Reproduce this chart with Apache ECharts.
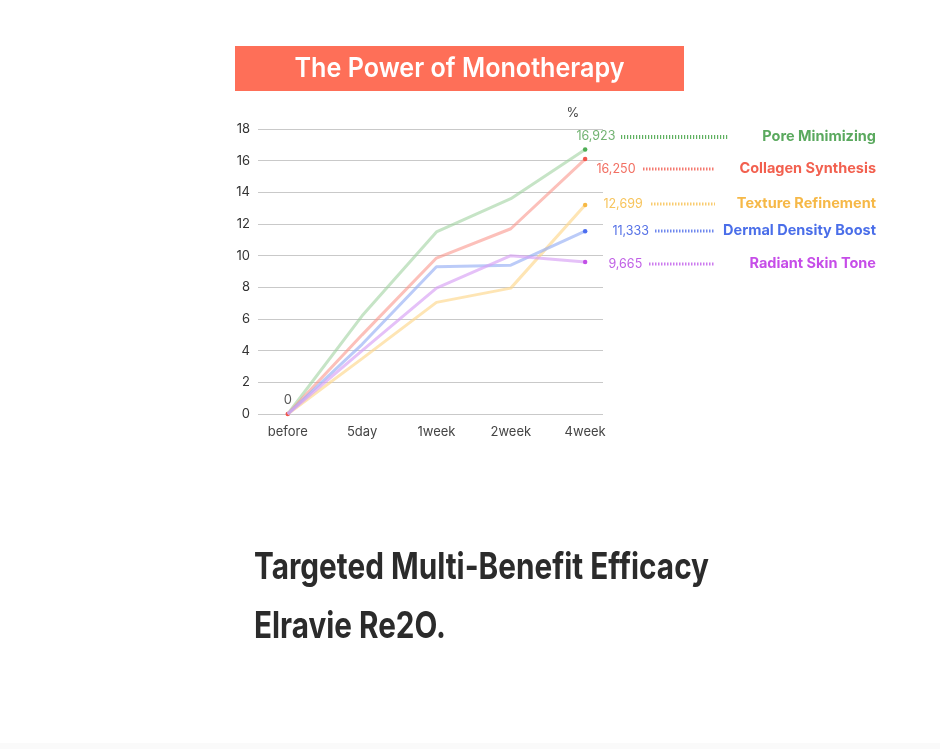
<!DOCTYPE html>
<html><head><meta charset="utf-8">
<script src="https://cdn.jsdelivr.net/npm/echarts@6/dist/echarts.min.js"></script>
<style>html,body{margin:0;padding:0;background:#fff}#c{width:940px;height:749px}</style>
</head><body><div id="c"></div>
<script>
const categories = ['before', '5day', '1week', '2week', '4week'];
const seriesNames = ['Pore Minimizing', 'Collagen Synthesis', 'Texture Refinement', 'Dermal Density Boost', 'Radiant Skin Tone'];
const poreMinimizing = [0, 6.2, 11.5, 13.6, 16.7];
const collagenSynthesis = [0, 5.0, 9.85, 11.7, 16.1];
const textureRefinement = [0, 3.5, 7.05, 7.95, 13.2];
const dermalDensityBoost = [0, 4.4, 9.3, 9.4, 11.55];
const radiantSkinTone = [0, 4.0, 7.95, 10.0, 9.6];
const endLabels = ['16,923', '16,250', '12,699', '11,333', '9,665'];
const startLabel = '0';
const unitLabel = '%';
const titleText = 'The Power of Monotherapy';
const footerLines = ['Targeted Multi-Benefit Efficacy', 'Elravie Re2O.'];

const seriesValues = [poreMinimizing, collagenSynthesis, textureRefinement, dermalDensityBoost, radiantSkinTone];
const lineColors = ['rgba(160,210,160,0.6)', 'rgba(250,150,140,0.6)', 'rgba(253,215,140,0.65)', 'rgba(150,175,245,0.65)', 'rgba(215,160,245,0.65)'];
const dotColors = ['#4fae55', '#f2554c', '#f7b944', '#4c6df0', '#c24fe6'];
const dashColors = ['#5fb060', '#f47a70', '#f9cc70', '#6f88ee', '#cc7aee'];
const labelColors = ['#72b372', '#f26f62', '#f7c45c', '#5470e6', '#c060e6'];
const nameColors = ['#5aa95e', '#f2604f', '#f6b847', '#4a6ee9', '#c64de8'];
const labelOffsets = [[-16, -13], [4, 10], [11, -1], [20, 0], [16, 2]];
const legendY = [137, 169, 204, 231, 264];
const dashStart = [621, 643, 651, 655, 649];

function measure(text, font) {
  const ctx = document.createElement('canvas').getContext('2d');
  ctx.font = font;
  return ctx.measureText(text).width;
}

const FONT = 'Inter, "Noto Sans", sans-serif';
const titleFont = '600 27px ' + FONT;
const titleScale = 330 / measure(titleText, titleFont);
const footFont = '700 37px ' + FONT;
const foot1Scale = 455 / measure(footerLines[0], footFont);
const foot2Scale = 192 / measure(footerLines[1], footFont);

const last = categories.length - 1;
const series = seriesValues.map((vals, si) => ({
  name: seriesNames[si],
  type: 'line',
  z: 2 + si,
  data: vals.map((v, i) => {
    const item = { value: [i, v] };
    if (i === last) {
      item.label = {
        show: true, position: 'right', distance: 5,
        offset: labelOffsets[si], formatter: endLabels[si],
        color: labelColors[si], fontSize: 12.5, fontFamily: FONT
      };
    }
    if (i === 0 && si === 1) {
      item.label = { show: true, position: 'top', distance: 5, formatter: startLabel, color: '#555', fontSize: 13, fontFamily: FONT };
    }
    return item;
  }),
  symbol: 'circle',
  symbolSize: (val, p) => (p.dataIndex === last || (si === 1 && p.dataIndex === 0)) ? 4.5 : 0,
  itemStyle: { color: dotColors[si] },
  lineStyle: { color: lineColors[si], width: 3 },
  emphasis: { disabled: true },
  animation: false
}));

const graphics = [
  { type: 'rect', shape: { x: 235, y: 46, width: 449, height: 45 }, style: { fill: '#fe6f58' } },
  { type: 'text', x: 459.5, y: 69, scaleX: titleScale, style: { text: titleText, font: titleFont, fill: '#fff', textAlign: 'center', textVerticalAlign: 'middle' } },
  { type: 'text', x: 573, y: 113, style: { text: unitLabel, font: '13px ' + FONT, fill: '#444', textAlign: 'center', textVerticalAlign: 'middle' } },
  { type: 'text', x: 254, y: 568, scaleX: foot1Scale, style: { text: footerLines[0], font: footFont, fill: '#2b2b2b', textAlign: 'left', textVerticalAlign: 'middle' } },
  { type: 'text', x: 254, y: 627, scaleX: foot2Scale, style: { text: footerLines[1], font: footFont, fill: '#2b2b2b', textAlign: 'left', textVerticalAlign: 'middle' } },
  { type: 'rect', shape: { x: 0, y: 743, width: 940, height: 6 }, style: { fill: '#fafafa' } }
];
seriesNames.forEach((n, si) => {
  const isFirst = si === 0;
  graphics.push({
    type: 'line',
    shape: { x1: dashStart[si], y1: legendY[si], x2: isFirst ? 728 : 715, y2: legendY[si] },
    style: { stroke: dashColors[si], lineWidth: isFirst ? 4 : 3, lineDash: isFirst ? [1.2, 1.8] : [1.5, 1.5] }
  });
  graphics.push({
    type: 'text', x: 876, y: legendY[si],
    style: { text: n, font: '700 14.5px ' + FONT, fill: nameColors[si], textAlign: 'right', textVerticalAlign: 'middle' }
  });
});

const chart = echarts.init(document.getElementById('c'), null, { renderer: 'canvas' });
chart.setOption({
  backgroundColor: '#fff',
  animation: false,
  grid: { left: 258, right: 337, top: 129, bottom: 335, containLabel: false },
  xAxis: {
    type: 'value', min: -0.4, max: 4.24,
    axisLine: { show: false }, axisTick: { show: false }, splitLine: { show: false },
    axisLabel: {
      customValues: [0, 1, 2, 3, 4],
      formatter: v => categories[Math.round(v)] || '',
      color: '#444', fontSize: 13, fontFamily: FONT, margin: 12
    }
  },
  yAxis: {
    type: 'value', min: 0, max: 18, interval: 2,
    axisLine: { show: false }, axisTick: { show: false },
    splitLine: { show: true, lineStyle: { color: '#c9c9c9', width: 1 } },
    axisLabel: { color: '#333', fontSize: 13, fontFamily: FONT, margin: 8 }
  },
  series: series,
  graphic: graphics
});
</script>
</body></html>
